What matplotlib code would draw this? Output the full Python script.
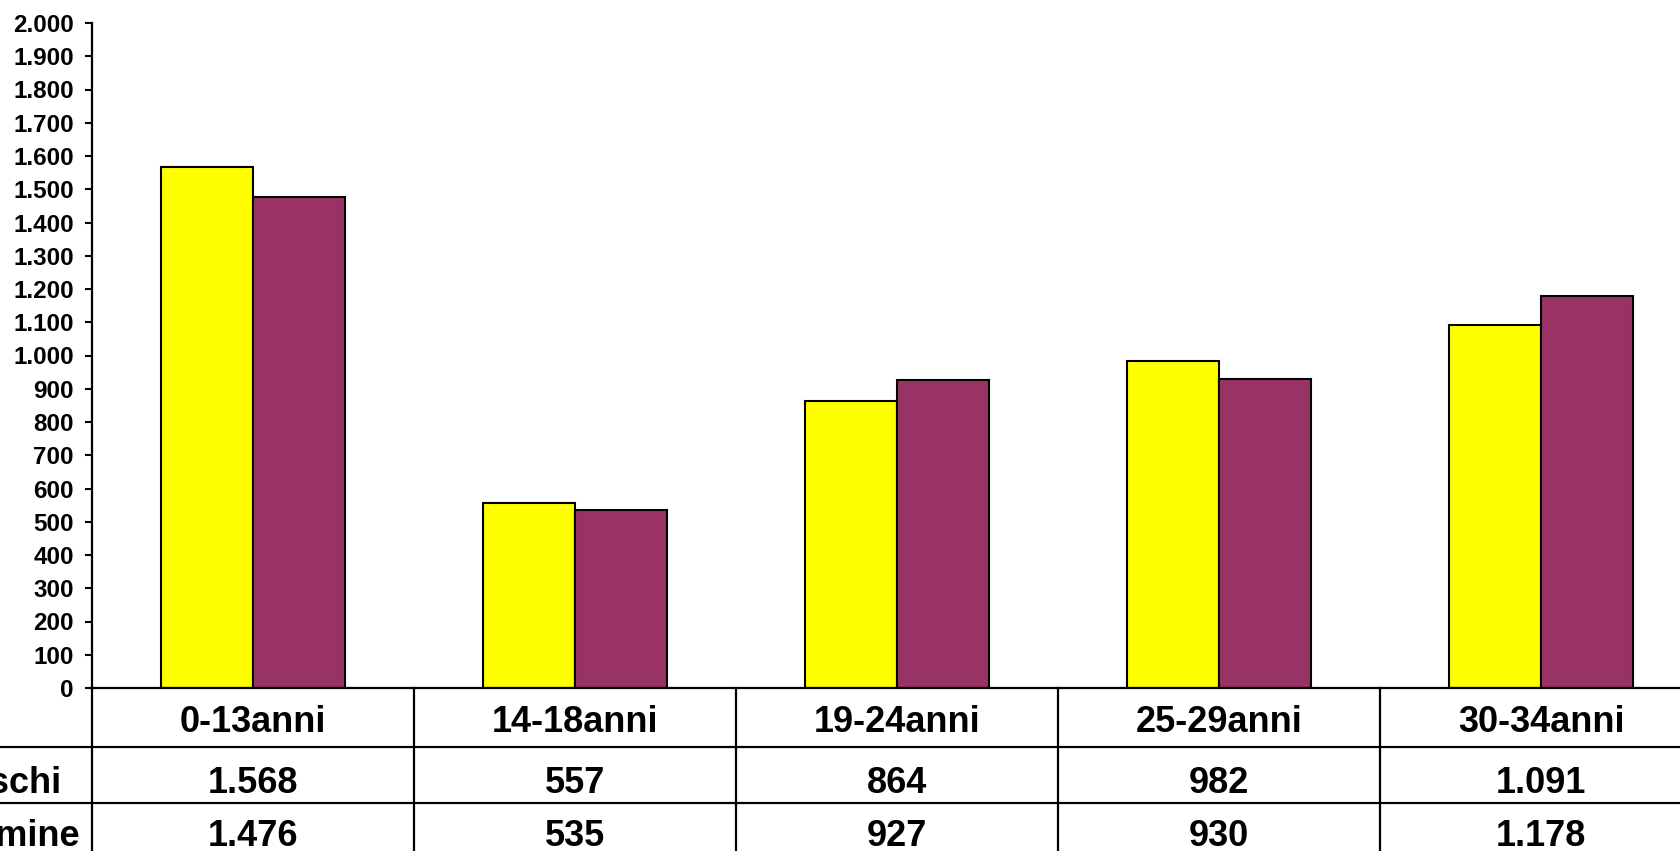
import matplotlib.pyplot as plt
import matplotlib.transforms as mtransforms
import numpy as np
from matplotlib.ticker import FuncFormatter

categories = ["0-13anni", "14-18anni", "19-24anni", "25-29anni", "30-34anni"]
series_names = ["Maschi", "Femmine"]
maschi = [1568, 557, 864, 982, 1091]
femmine = [1476, 535, 927, 930, 1178]

colors = ["#FFFF00", "#993366"]


def it_thousands(v, _pos=None):
    return f"{int(v):,}".replace(",", ".")


plt.rcParams["font.family"] = ["Liberation Sans", "DejaVu Sans"]
plt.rcParams["font.weight"] = "bold"

W, H = 1680, 851
fig = plt.figure(figsize=(W / 100, H / 100), dpi=100)
# axes extends a bit past the right edge of the picture, like the cropped source
left_px, right_px, top_px, bottom_px = 92, 1702, 23, 688
ax = fig.add_axes([left_px / W, (H - bottom_px) / H,
                   (right_px - left_px) / W, (bottom_px - top_px) / H])

x = np.arange(len(categories))
w = 1 / 3.5  # Excel gap width 150%
ax.bar(x - w / 2, maschi, w, color=colors[0], edgecolor="black", linewidth=1.5)
ax.bar(x + w / 2, femmine, w, color=colors[1], edgecolor="black", linewidth=1.5)

ax.set_xlim(-0.5, len(categories) - 0.5)
ax.set_ylim(0, 2000)
ax.set_yticks(np.arange(0, 2001, 100))
ax.yaxis.set_major_formatter(FuncFormatter(it_thousands))
ax.tick_params(axis="y", length=5, width=1.5, pad=8, labelsize=17.5)
ax.set_xticks([])
for side in ("top", "right"):
    ax.spines[side].set_visible(False)
for side in ("left", "bottom"):
    ax.spines[side].set_linewidth(1.6)

# data table under the plot
ax_h = bottom_px - top_px
def frac(py):
    return (bottom_px - py) / ax_h

trans = mtransforms.blended_transform_factory(ax.transData, ax.transAxes)
row_lines = [frac(747), frac(803)]
table_bottom = frac(870)
for b in np.arange(-0.5, len(categories), 1.0):
    ax.plot([b, b], [0, table_bottom], color="black", lw=1.6,
            transform=trans, clip_on=False)
for y in row_lines:
    ax.plot([-0.2, 1], [y, y], color="black", lw=1.6,
            transform=ax.transAxes, clip_on=False)

cell_fs = 26
for i, cat in enumerate(categories):
    ax.text(i, frac(732), cat, ha="center", va="baseline", fontsize=cell_fs,
            fontweight="bold", transform=trans)
    ax.text(i, frac(793), it_thousands(maschi[i]), ha="center", va="baseline",
            fontsize=cell_fs, fontweight="bold", transform=trans)
    ax.text(i, frac(846), it_thousands(femmine[i]), ha="center", va="baseline",
            fontsize=cell_fs, fontweight="bold", transform=trans)

label_x = (1 - left_px) / (right_px - left_px)
ax.text(label_x, frac(793), series_names[0], ha="center", va="baseline",
        fontsize=cell_fs, fontweight="bold", transform=ax.transAxes)
ax.text(label_x, frac(846), series_names[1], ha="center", va="baseline",
        fontsize=cell_fs, fontweight="bold", transform=ax.transAxes)

fig.savefig("out.png", dpi=100)
